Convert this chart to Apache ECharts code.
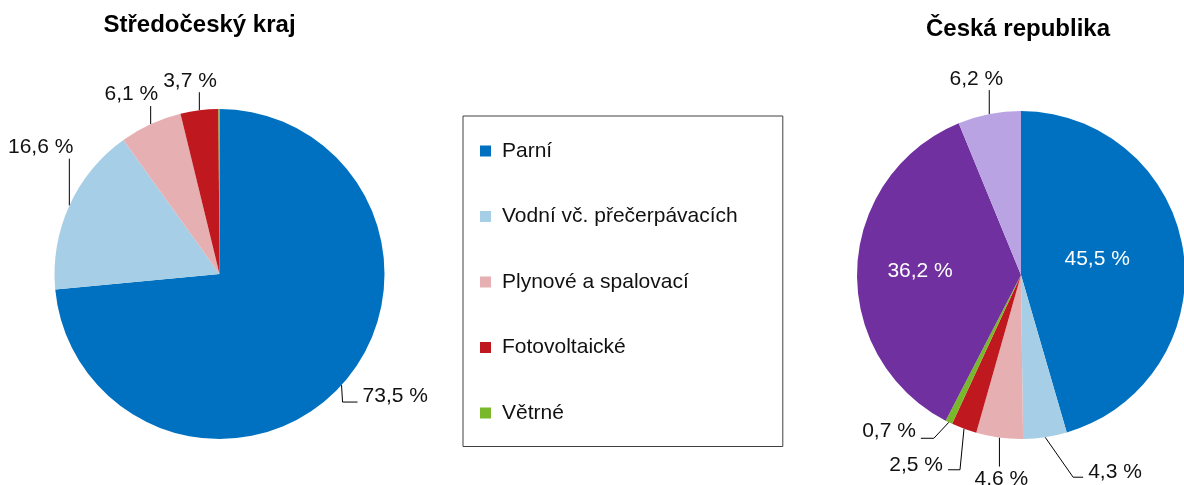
<!DOCTYPE html>
<html>
<head>
<meta charset="utf-8">
<title>Instalovaný výkon podle typu elektráren</title>
<script src="https://cdn.jsdelivr.net/npm/echarts@6/dist/echarts.min.js"></script>
<style>
  html, body { margin: 0; padding: 0; background: #fff; }
  #chart { width: 1184px; height: 485px; }
</style>
</head>
<body>
<div id="chart"></div>
<script>
// data (share of installed capacity, %)
var categories = ['Parní', 'Vodní vč. přečerpávacích', 'Plynové a spalovací', 'Fotovoltaické', 'Větrné'];
var pieTitles = ['Středočeský kraj', 'Česká republika'];
var krajNames = ['Parní', 'Vodní vč. přečerpávacích', 'Plynové a spalovací', 'Fotovoltaické', 'Větrné'];
var krajValues = [73.5, 16.6, 6.1, 3.7, 0.1];
var crNames = ['Parní', 'Vodní vč. přečerpávacích', 'Plynové a spalovací', 'Fotovoltaické', 'Větrné', 'Jaderné', 'Paroplynové'];
var crValues = [45.5, 4.3, 4.6, 2.5, 0.7, 36.2, 6.2];

var FONT = '"Liberation Sans", Arial, sans-serif';
var colors = ['#0070c0', '#a6cee6', '#e6b0b3', '#c0181f', '#78b82a', '#70309f', '#b9a3e3'];

// leader lines, Excel style: segments from the slice edge, then label offset from the line end
var leaders = [
    {
        0: { segs: [[1, 17], [15, 0]], align: 'left', off: [5, -6] },
        1: { segs: [[0, -47]], align: 'right', off: [4, -11.5] },
        2: { segs: [[0, -18]], align: 'right', off: [7.5, -11.5] },
        3: { segs: [[0, -18]], align: 'right', off: [17.5, -11.5] }
    },
    {
        0: { dx: -8, dy: -4 },
        1: { segs: [[28, 40], [10, 0]], align: 'left', off: [5, -5] },
        2: { segs: [[0, 29]], align: 'center', off: [2, 13] },
        3: { segs: [[-4, 41], [-12, 0]], align: 'right', off: [-5, -5] },
        4: { segs: [[-15, 16], [-13, 0]], align: 'right', off: [-5, -7] },
        5: { dx: -16, dy: 0 },
        6: { segs: [[0, -24]], align: 'right', off: [14, -11] }
    }
];

function leaderLayout(seriesIdx) {
    return function (params) {
        var spec = leaders[seriesIdx][params.dataIndex];
        if (!spec) return {};
        if (!spec.segs) return { dx: spec.dx, dy: spec.dy };
        var p = params.labelLinePoints[0];
        var pts = [[p[0], p[1]]];
        var x = p[0], y = p[1];
        spec.segs.forEach(function (s) {
            x += s[0];
            y += s[1];
            pts.push([x, y]);
        });
        return {
            x: x + spec.off[0],
            y: y + spec.off[1],
            align: spec.align,
            verticalAlign: 'middle',
            labelLinePoints: pts
        };
    };
}

function buildData(names, values, inside, hidden) {
    return names.map(function (n, i) {
        var item = { name: n, value: values[i] };
        if (inside.indexOf(i) > -1) {
            item.label = { position: 'inside', color: '#fff' };
            item.labelLine = { show: false };
        }
        if (hidden.indexOf(i) > -1) {
            item.label = { show: false };
            item.labelLine = { show: false };
        }
        return item;
    });
}

function pctLabel(p) {
    return p.value.toFixed(1).replace('.', ',') + ' %';
}

function pieSeries(idx, center, radius, data) {
    return {
        type: 'pie',
        name: pieTitles[idx],
        center: center,
        radius: [0, radius],
        startAngle: 90,
        clockwise: true,
        avoidLabelOverlap: false,
        animation: false,
        data: data,
        itemStyle: { borderWidth: 0 },
        label: {
            position: 'outside',
            formatter: pctLabel,
            fontFamily: FONT,
            fontSize: 21,
            color: '#111'
        },
        labelLine: {
            show: true,
            lineStyle: { color: '#000', width: 1 }
        },
        labelLayout: leaderLayout(idx),
        emphasis: { disabled: true }
    };
}

var chart = echarts.init(document.getElementById('chart'));
var option = {
    backgroundColor: '#fff',
    animation: false,
    color: colors,
    graphic: [
        {
            type: 'text', x: 199.5, y: 25.5,
            style: { text: pieTitles[0], font: 'bold 24px ' + FONT, fill: '#000', align: 'center', verticalAlign: 'middle' }
        },
        {
            type: 'text', x: 1018, y: 29.5,
            style: { text: pieTitles[1], font: 'bold 24px ' + FONT, fill: '#000', align: 'center', verticalAlign: 'middle' }
        }
    ],
    legend: {
        orient: 'vertical',
        left: 463,
        top: 116,
        data: categories,
        icon: 'rect',
        itemWidth: 11,
        itemHeight: 11,
        itemGap: 44.5,
        padding: [24.5, 45, 23, 17],
        borderColor: '#404040',
        borderWidth: 1,
        selectedMode: false,
        textStyle: {
            fontFamily: FONT,
            fontSize: 21,
            color: '#111',
            padding: [0, 0, 0, 6]
        }
    },
    series: [
        pieSeries(0, [219.5, 274], 165, buildData(krajNames, krajValues, [], [4])),
        pieSeries(1, [1021, 275], 164, buildData(crNames, crValues, [0, 5], []))
    ]
};
chart.setOption(option);
</script>
</body>
</html>
